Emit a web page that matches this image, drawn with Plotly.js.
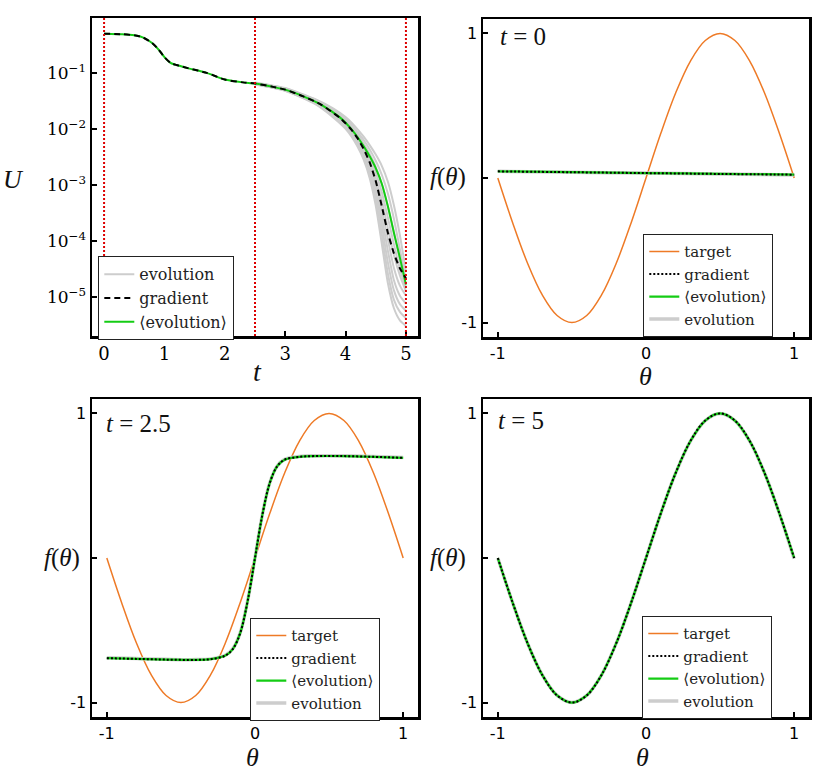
<!DOCTYPE html>
<html><head><meta charset="utf-8">
<script src="https://cdn.plot.ly/plotly-3.0.1.min.js"></script>
<style>html,body{margin:0;padding:0;background:#fff}#plot{width:830px;height:777px}</style>
</head><body><div id="plot"></div>
<script>
// ---- Panel 1: cost U(t) (values stored as log10 U) ----
const timeGrid = [0, 0.3, 0.5, 0.65, 0.8, 0.9, 1.0, 1.1, 1.2, 1.4, 1.7, 2.0, 2.3, 2.5, 2.8, 3.0, 3.3, 3.6, 3.9, 4.0, 4.1, 4.2, 4.3, 4.4, 4.5, 4.6, 4.7, 4.8, 4.9, 5.0];
const gradientLog10U = [-0.30, -0.31, -0.33, -0.37, -0.47, -0.58, -0.72, -0.82, -0.86, -0.92, -1.00, -1.12, -1.17, -1.19, -1.25, -1.30, -1.42, -1.57, -1.80, -1.90, -2.02, -2.17, -2.36, -2.60, -2.93, -3.38, -3.85, -4.22, -4.49, -4.67];
const meanEvolutionLog10U = [-0.30, -0.31, -0.33, -0.37, -0.47, -0.58, -0.72, -0.82, -0.86, -0.92, -1.00, -1.12, -1.17, -1.19, -1.25, -1.30, -1.42, -1.57, -1.79, -1.89, -2.01, -2.15, -2.31, -2.49, -2.70, -2.98, -3.38, -3.85, -4.30, -4.78];
const evolutionTime = [2.5, 3.0, 3.5, 3.8, 4.0, 4.1, 4.2, 4.3, 4.4, 4.5, 4.6, 4.7, 4.8, 4.9, 5.0];
const evolutionLog10U = [
  [-1.17, -1.27, -1.47, -1.64, -1.79, -1.89, -2.01, -2.14, -2.29, -2.46, -2.66, -2.94, -3.36, -3.90, -4.55],
  [-1.18, -1.28, -1.48, -1.66, -1.82, -1.93, -2.06, -2.20, -2.37, -2.57, -2.82, -3.15, -3.60, -4.15, -4.70],
  [-1.18, -1.28, -1.49, -1.68, -1.85, -1.96, -2.10, -2.26, -2.45, -2.68, -2.98, -3.38, -3.85, -4.35, -4.80],
  [-1.19, -1.29, -1.50, -1.70, -1.87, -1.99, -2.13, -2.30, -2.51, -2.78, -3.13, -3.58, -4.06, -4.50, -4.85],
  [-1.19, -1.30, -1.51, -1.71, -1.89, -2.01, -2.16, -2.34, -2.57, -2.88, -3.28, -3.77, -4.25, -4.62, -4.90],
  [-1.19, -1.30, -1.52, -1.72, -1.91, -2.04, -2.19, -2.38, -2.63, -2.98, -3.43, -3.97, -4.48, -4.80, -4.98],
  [-1.20, -1.31, -1.53, -1.74, -1.93, -2.06, -2.22, -2.42, -2.69, -3.07, -3.58, -4.17, -4.70, -4.98, -5.12],
  [-1.20, -1.31, -1.54, -1.76, -1.95, -2.08, -2.25, -2.46, -2.75, -3.16, -3.72, -4.38, -4.88, -5.13, -5.25],
  [-1.20, -1.32, -1.55, -1.78, -1.97, -2.11, -2.28, -2.50, -2.81, -3.26, -3.88, -4.58, -5.05, -5.27, -5.38],
  [-1.21, -1.32, -1.56, -1.80, -2.00, -2.14, -2.32, -2.55, -2.88, -3.37, -4.05, -4.75, -5.20, -5.42, -5.52]
];
const snapshotTimes = [0, 2.5, 5];
const uTickVals = [1e-1, 1e-2, 1e-3, 1e-4, 1e-5];
const uTickText = ['10<sup>\u22121</sup>', '10<sup>\u22122</sup>', '10<sup>\u22123</sup>', '10<sup>\u22124</sup>', '10<sup>\u22125</sup>'];
const tTickVals = [0, 1, 2, 3, 4, 5];

// ---- Panels 2-4: f(theta) ----
const thetaTarget = [-1, -0.9, -0.8, -0.7, -0.6, -0.5, -0.4, -0.3, -0.2, -0.1, 0, 0.1, 0.2, 0.3, 0.4, 0.5, 0.6, 0.7, 0.8, 0.9, 1];
const targetF = [0, -0.309, -0.588, -0.809, -0.951, -1, -0.951, -0.809, -0.588, -0.309, 0, 0.309, 0.588, 0.809, 0.951, 1, 0.951, 0.809, 0.588, 0.309, 0];

const thetaT0 = [-1, -0.5, 0, 0.5, 1];
const gradientT0 = [0.046, 0.040, 0.034, 0.028, 0.023];
const meanEvolutionT0 = [0.046, 0.040, 0.034, 0.029, 0.024];
const evolutionT0 = [0.046, 0.040, 0.034, 0.028, 0.021];

const thetaT25 = [-1, -0.8, -0.6, -0.4, -0.3, -0.2, -0.15, -0.1, -0.05, 0, 0.05, 0.1, 0.15, 0.2, 0.3, 0.4, 0.6, 0.8, 1];
const gradientT25 = [-0.693, -0.698, -0.703, -0.705, -0.700, -0.675, -0.630, -0.520, -0.300, 0.0, 0.300, 0.520, 0.635, 0.680, 0.700, 0.705, 0.705, 0.700, 0.693];
const meanEvolutionT25 = [-0.693, -0.698, -0.703, -0.705, -0.700, -0.675, -0.630, -0.520, -0.300, 0.0, 0.300, 0.520, 0.635, 0.680, 0.700, 0.705, 0.705, 0.700, 0.693];
const evolutionT25 = [-0.690, -0.696, -0.701, -0.703, -0.698, -0.673, -0.628, -0.518, -0.298, 0.002, 0.302, 0.522, 0.637, 0.682, 0.702, 0.707, 0.707, 0.702, 0.695];

const gradientT5 = [0, -0.309, -0.588, -0.809, -0.951, -1, -0.951, -0.809, -0.588, -0.309, 0, 0.309, 0.588, 0.809, 0.951, 1, 0.951, 0.809, 0.588, 0.309, 0];
const meanEvolutionT5 = [0, -0.309, -0.588, -0.809, -0.951, -1, -0.951, -0.809, -0.588, -0.309, 0, 0.309, 0.588, 0.809, 0.951, 1, 0.951, 0.809, 0.588, 0.309, 0];
const evolutionT5 = [0, -0.309, -0.588, -0.809, -0.951, -1, -0.951, -0.809, -0.588, -0.309, 0, 0.309, 0.588, 0.809, 0.951, 1, 0.951, 0.809, 0.588, 0.309, -0.005];

// ---- styling ----
const MATH = 'Liberation Serif';
const SERIF = 'DejaVu Serif';
const SANS = 'DejaVu Sans';
const GRAY = '#cdcdcd', GREEN = '#14cc14', ORANGE = '#ee7a26', RED = '#dd0000';
const pow10 = a => a.map(v => Math.pow(10, v));

const traces = [];
// Panel 1
evolutionLog10U.forEach((row, i) => traces.push({
  x: evolutionTime, y: pow10(row), xaxis: 'x', yaxis: 'y', mode: 'lines',
  line: {color: GRAY, width: 2, shape: 'spline', smoothing: 0.6},
  name: 'evolution', legend: 'legend', legendgroup: 'evo1', showlegend: i === 0, legendrank: 1
}));
traces.push({x: timeGrid, y: pow10(meanEvolutionLog10U), xaxis: 'x', yaxis: 'y', mode: 'lines',
  line: {color: GREEN, width: 2, shape: 'spline', smoothing: 0.6}, name: '\u27E8evolution\u27E9', legend: 'legend', legendrank: 3});
traces.push({x: timeGrid, y: pow10(gradientLog10U), xaxis: 'x', yaxis: 'y', mode: 'lines',
  line: {color: '#000', width: 2, dash: '6px,4px', shape: 'spline', smoothing: 0.6}, name: 'gradient', legend: 'legend', legendrank: 2});

function fPanel(n, legendName, theta, grad, meanEvo, evo, thetaEvo) {
  const ax = String(n);
  traces.push({x: thetaTarget, y: targetF, xaxis: 'x' + ax, yaxis: 'y' + ax, mode: 'lines',
    line: {color: ORANGE, width: 1.5, shape: 'spline'}, name: 'target', legend: legendName, legendrank: 1});
  traces.push({x: thetaEvo, y: evo, xaxis: 'x' + ax, yaxis: 'y' + ax, mode: 'lines',
    line: {color: GRAY, width: 3.5, shape: 'spline'}, name: 'evolution', legend: legendName, legendrank: 4});
  traces.push({x: theta, y: meanEvo, xaxis: 'x' + ax, yaxis: 'y' + ax, mode: 'lines',
    line: {color: GREEN, width: 2.2, shape: 'spline'}, name: '\u27E8evolution\u27E9', legend: legendName, legendrank: 3});
  traces.push({x: theta, y: grad, xaxis: 'x' + ax, yaxis: 'y' + ax, mode: 'lines',
    line: {color: '#000', width: 2, dash: '2px,2px', shape: 'spline'}, name: 'gradient', legend: legendName, legendrank: 2});
}
fPanel(2, 'legend2', thetaT0, gradientT0, meanEvolutionT0, evolutionT0, thetaT0);
fPanel(3, 'legend3', thetaT25, gradientT25, meanEvolutionT25, evolutionT25, thetaT25);
fPanel(4, 'legend4', thetaTarget, gradientT5, meanEvolutionT5, evolutionT5, thetaTarget);

const W = 830, H = 777;
const px = v => v / W, py = v => 1 - v / H;
const frame = {showline: true, linecolor: '#000', linewidth: 2.5, mirror: true, ticks: 'inside',
  ticklen: 5, tickwidth: 2, tickcolor: '#000', showgrid: false, zeroline: false, fixedrange: true};
const thetaAxis = Object.assign({}, frame, {range: [-1.1, 1.1], tickvals: [-1, 0, 1], ticktext: ['-1', '0', '1'],
  tickfont: {family: SANS, size: 16, color: '#000'}});
const fAxis = Object.assign({}, frame, {range: [-1.1, 1.1], tickvals: [-1, 0, 1], ticktext: ['-1', '', '1'],
  tickfont: {family: SANS, size: 16, color: '#000'}});

const legendBase = {xref: 'paper', yref: 'paper', xanchor: 'left', yanchor: 'top', bgcolor: '#fff',
  bordercolor: '#222', borderwidth: 1.3, font: {family: SERIF, size: 15, color: '#222'}, itemwidth: 30, tracegroupgap: 0};

function ann(text, x, y, size, xanchor) {
  return {text: text, x: px(x), y: py(y), xref: 'paper', yref: 'paper', showarrow: false,
    xanchor: xanchor || 'center', yanchor: 'middle', font: {family: MATH, size: size, color: '#111'}};
}

const layout = {
  width: W, height: H, margin: {l: 0, r: 0, t: 0, b: 0}, paper_bgcolor: '#fff', plot_bgcolor: '#fff',
  showlegend: true,
  xaxis: Object.assign({}, frame, {domain: [px(92), px(418)], anchor: 'y', range: [-0.2, 5.2], tickvals: tTickVals,
    tickfont: {family: SERIF, size: 18, color: '#000'}}),
  yaxis: Object.assign({}, frame, {domain: [py(336), py(18)], anchor: 'x', type: 'log', range: [-5.70, -0.02],
    tickvals: uTickVals, ticktext: uTickText, tickfont: {family: SERIF, size: 17, color: '#000'}}),
  xaxis2: Object.assign({}, thetaAxis, {domain: [px(483), px(809)], anchor: 'y2'}),
  yaxis2: Object.assign({}, fAxis, {domain: [py(337), py(19)], anchor: 'x2'}),
  xaxis3: Object.assign({}, thetaAxis, {domain: [px(92), px(418)], anchor: 'y3'}),
  yaxis3: Object.assign({}, fAxis, {domain: [py(717), py(399)], anchor: 'x3'}),
  xaxis4: Object.assign({}, thetaAxis, {domain: [px(483), px(809)], anchor: 'y4'}),
  yaxis4: Object.assign({}, fAxis, {domain: [py(717), py(399)], anchor: 'x4'}),
  legend: Object.assign({}, legendBase, {x: px(98), y: py(256), font: {family: SERIF, size: 16, color: '#222'}}),
  legend2: Object.assign({}, legendBase, {x: px(643), y: py(234)}),
  legend3: Object.assign({}, legendBase, {x: px(250), y: py(618)}),
  legend4: Object.assign({}, legendBase, {x: px(642), y: py(616)}),
  shapes: snapshotTimes.map(t => ({type: 'line', xref: 'x', yref: 'y domain', x0: t, x1: t, y0: 0, y1: 1,
    layer: 'above', line: {color: RED, width: 2, dash: '2px,2px'}})),
  annotations: [
    ann('<i>U</i>', 13, 180, 26),
    ann('<i>t</i>', 257, 372, 28),
    ann('<i>f</i>(<i>\u03B8</i>)', 448, 177, 25),
    ann('<i>\u03B8</i>', 645, 376, 26),
    ann('<i>f</i>(<i>\u03B8</i>)', 62, 558, 25),
    ann('<i>\u03B8</i>', 252, 757, 26),
    ann('<i>f</i>(<i>\u03B8</i>)', 448, 558, 25),
    ann('<i>\u03B8</i>', 642, 757, 26),
    ann('<i>t</i> = 0', 498, 36, 25, 'left'),
    ann('<i>t</i> = 2.5', 104, 423, 25, 'left'),
    ann('<i>t</i> = 5', 496, 421, 25, 'left')
  ]
};

Plotly.newPlot('plot', traces, layout, {staticPlot: true, displayModeBar: false});
</script>
</body></html>
